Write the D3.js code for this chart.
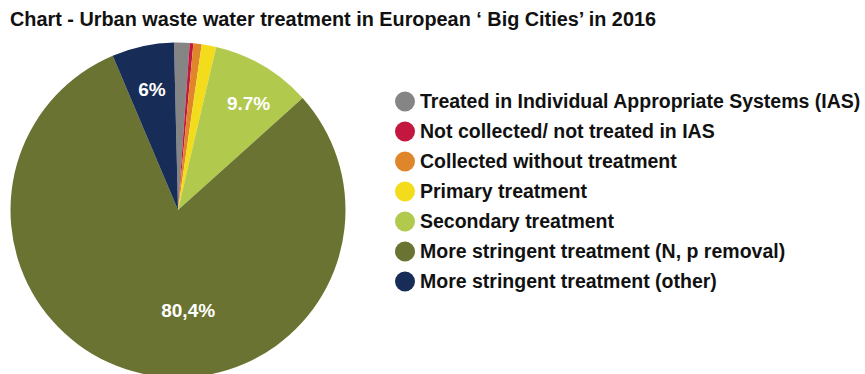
<!DOCTYPE html>
<html>
<head>
<meta charset="utf-8">
<script src="https://cdn.jsdelivr.net/npm/d3@7"></script>
<style>
  body { margin: 0; background: #fff; }
  text { font-family: "Liberation Sans", Arial, sans-serif; font-weight: bold; }
</style>
</head>
<body>
<div id="chart"></div>
<script>
var svgWidth = 865;
var svgHeight = 374;

// data, clockwise from 12 o'clock
var categories = [
  "Treated in Individual Appropriate Systems (IAS)",
  "Not collected/ not treated in IAS",
  "Collected without treatment",
  "Primary treatment",
  "Secondary treatment",
  "More stringent treatment (N, p removal)",
  "More stringent treatment (other)"
];
var values = [1.5, 0.35, 0.8, 1.4, 9.7, 80.4, 6];
var sliceLabels = ["", "", "", "", "9.7%", "80,4%", "6%"];
var colors = ["#858585", "#c4173f", "#e0862a", "#f3dc1b", "#b1c94c", "#6a7331", "#172c56"];
var title = "Chart - Urban waste water treatment in European \u2018 Big Cities\u2019 in 2016";

var svg = d3.select("#chart")
  .append("svg")
  .attr("width", svgWidth)
  .attr("height", svgHeight);

// title
svg.append("text")
  .attr("x", 10)
  .attr("y", 26)
  .attr("font-size", 19.4)
  .attr("fill", "#111")
  .attr("textLength", 646)
  .attr("lengthAdjust", "spacingAndGlyphs")
  .text(title);

// pie
var radius = 167.5;
var pieGroup = svg.append("g")
  .attr("transform", "translate(178, 210)");

var offset = -0.024;
var pie = d3.pie()
  .sort(null)
  .startAngle(offset)
  .endAngle(2 * Math.PI + offset);

var arc = d3.arc().innerRadius(0).outerRadius(radius);

var arcs = pie(values);

pieGroup.selectAll("path")
  .data(arcs)
  .enter()
  .append("path")
  .attr("d", arc)
  .attr("fill", (d, i) => colors[i]);

// labels: radius and small angle nudge per slice
var labelRadius = [0, 0, 0, 0, 128, 101, 124];
var labelShift = [0, 0, 0, 0, 0.05, -0.32, 0];

pieGroup.selectAll(".sliceLabel")
  .data(arcs)
  .enter()
  .filter((d, i) => sliceLabels[i] !== "")
  .append("text")
  .attr("class", "sliceLabel")
  .attr("transform", function(d) {
    var i = d.index;
    var a = (d.startAngle + d.endAngle) / 2 + labelShift[i];
    var r = labelRadius[i];
    return "translate(" + (r * Math.sin(a)) + "," + (-r * Math.cos(a)) + ")";
  })
  .attr("text-anchor", "middle")
  .attr("dy", "0.36em")
  .attr("font-size", 19)
  .attr("fill", "#fff")
  .text(d => sliceLabels[d.index]);

// legend
var legend = svg.append("g")
  .attr("transform", "translate(405, 101.5)");

var rows = legend.selectAll("g")
  .data(categories)
  .enter()
  .append("g")
  .attr("transform", (d, i) => "translate(0," + (i * 30) + ")");

rows.append("circle")
  .attr("r", 10)
  .attr("fill", (d, i) => colors[i]);

rows.append("text")
  .attr("x", 15)
  .attr("y", 6.6)
  .attr("font-size", 19.5)
  .attr("fill", "#111")
  .text(d => d);
</script>
</body>
</html>
